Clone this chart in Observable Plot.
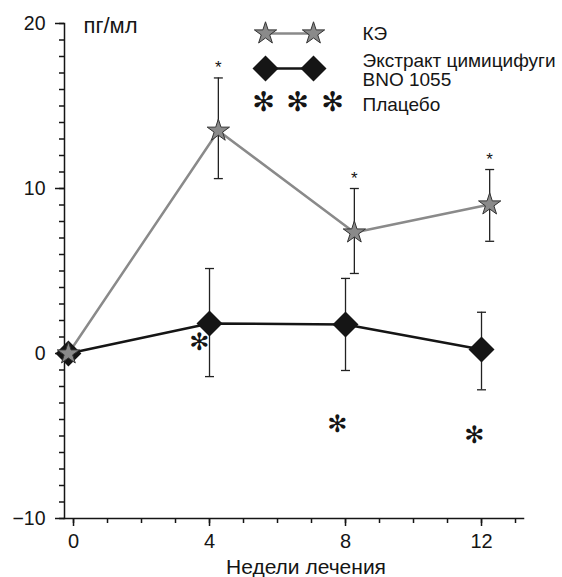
<!DOCTYPE html>
<html><head><meta charset="utf-8">
<script src="https://cdn.jsdelivr.net/npm/d3@7"></script>
<script src="https://cdn.jsdelivr.net/npm/@observablehq/plot@0.6"></script>
<style>body{margin:0;background:#fff}#chart{width:562px;height:577px}</style>
</head><body><div id="chart"></div>
<script>
// tick labels
const weekTicks = [0, 4, 8, 12];
const weekMinor = [0,1,2,3,4,5,6,7,8,9,10,11,12,13];
const yTicks = [-10, 0, 10, 20];
const yMinor = d3.range(-10, 21);

// КЭ (gray stars) — plotted x positions
const keX    = [-0.15, 4.26, 8.26, 12.24];
const keMean = [0, 13.5, 7.33, 9.03];
const keLow  = [null, 10.6, 4.85, 6.8];
const keHigh = [null, 16.7, 10.0, 11.15];

// Экстракт цимицифуги BNO 1055 (black diamonds)
const cimX    = [-0.15, 4, 8, 12];
const cimMean = [0, 1.82, 1.76, 0.24];
const cimLow  = [null, -1.4, -1.03, -2.2];
const cimHigh = [null, 5.15, 4.55, 2.5];

// Плацебо (asterisks)
const plX    = [3.7, 7.76, 11.79];
const plMean = [0.67, -4.3, -4.97];

const legendLabels = ["КЭ", "Экстракт цимицифуги", "BNO 1055", "Плацебо"];

const ke = keX.map((x, i) => ({x, y: keMean[i], lo: keLow[i], hi: keHigh[i]}));
const cim = cimX.map((x, i) => ({x, y: cimMean[i], lo: cimLow[i], hi: cimHigh[i]}));
const pl = plX.map((x, i) => ({x, y: plMean[i]}));
const keErr = ke.filter(d => d.lo != null);
const cimErr = cim.filter(d => d.lo != null);

const hline = hw => ({draw(ctx) { ctx.moveTo(-hw, 0); ctx.lineTo(hw, 0); }});
const cap = hline(4.5);
const gray = "#8a8a8a", black = "#151515";
const one = [0];
const font = "'Liberation Sans', Arial, sans-serif";

const legText = (label, dy) => Plot.text([label], {frameAnchor: "top-left", text: d => d, textAnchor: "start", lineAnchor: "middle", dx: 298, dy, fontSize: 19, fill: black});
const legAst = dx => Plot.text(one, {frameAnchor: "top-left", text: () => "✻", textAnchor: "middle", lineAnchor: "middle", dx, dy: 79, fontSize: 27, fill: black, fontFamily: "DejaVu Sans"});

const plot = Plot.plot({
  width: 562, height: 577,
  marginLeft: 64, marginRight: 39, marginTop: 23, marginBottom: 59,
  style: {fontFamily: font, fontSize: "19px", color: "#1a1a1a", background: "#fff", overflow: "visible"},
  x: {domain: [-0.265, 13.235]},
  y: {domain: [-10, 20]},
  marks: [
    Plot.frame({anchor: "left", stroke: black, strokeWidth: 1.5}),
    Plot.frame({anchor: "bottom", stroke: black, strokeWidth: 1.5}),
    Plot.axisY({ticks: yTicks, tickSize: 9, tickPadding: 10, fontSize: 19.5, label: null, strokeWidth: 1.5, color: black}),
    Plot.axisY({ticks: yMinor, tickSize: 5, fill: "none", label: null, strokeWidth: 1.5, stroke: black}),
    Plot.axisX({ticks: weekTicks, tickSize: 8, tickPadding: 7, fontSize: 20, label: null, strokeWidth: 1.5, color: black}),
    Plot.axisX({ticks: weekMinor, tickSize: 5, fill: "none", label: null, strokeWidth: 1.5, stroke: black}),
    Plot.text(one, {frameAnchor: "top-left", text: () => "пг/мл", textAnchor: "start", lineAnchor: "middle", dx: 19, dy: 2, fontSize: 22, fill: black}),
    Plot.text(one, {frameAnchor: "bottom", text: () => "Недели лечения", lineAnchor: "middle", dx: 12, dy: 49, fontSize: 21, fill: black}),

    // lines
    Plot.line(ke, {x: "x", y: "y", stroke: gray, strokeWidth: 2.5}),
    Plot.line(cim, {x: "x", y: "y", stroke: black, strokeWidth: 2.5}),

    // error bars
    Plot.ruleX(keErr, {x: "x", y1: "lo", y2: "hi", stroke: "#222", strokeWidth: 1.3}),
    Plot.dot(keErr, {x: "x", y: "lo", symbol: cap, stroke: "#222", strokeWidth: 1.3}),
    Plot.dot(keErr, {x: "x", y: "hi", symbol: cap, stroke: "#222", strokeWidth: 1.3}),
    Plot.ruleX(cimErr, {x: "x", y1: "lo", y2: "hi", stroke: "#222", strokeWidth: 1.3}),
    Plot.dot(cimErr, {x: "x", y: "lo", symbol: cap, stroke: "#222", strokeWidth: 1.3}),
    Plot.dot(cimErr, {x: "x", y: "hi", symbol: cap, stroke: "#222", strokeWidth: 1.3}),
    Plot.text(keErr, {x: "x", y: "hi", text: () => "*", dy: -10, fontSize: 17, fill: black}),

    // symbols
    Plot.dot(cim, {x: "x", y: "y", symbol: "diamond2", r: 11.7, fill: black, stroke: "none"}),
    Plot.dot(ke, {x: "x", y: "y", symbol: "star", r: 7, fill: gray, stroke: "#333", strokeWidth: 1}),
    Plot.text(pl, {x: "x", y: "y", text: () => "✻", fontSize: 24, fill: black, fontFamily: "DejaVu Sans"}),

    // legend
    Plot.dot(one, {frameAnchor: "top-left", dx: 225, dy: 10, symbol: hline(24), stroke: gray, strokeWidth: 2.5}),
    Plot.dot(one, {frameAnchor: "top-left", dx: 201, dy: 10, symbol: "star", r: 7, fill: gray, stroke: "#333", strokeWidth: 1}),
    Plot.dot(one, {frameAnchor: "top-left", dx: 249, dy: 10, symbol: "star", r: 7, fill: gray, stroke: "#333", strokeWidth: 1}),
    Plot.dot(one, {frameAnchor: "top-left", dx: 225, dy: 45, symbol: hline(24), stroke: black, strokeWidth: 2.5}),
    Plot.dot(one, {frameAnchor: "top-left", dx: 201, dy: 45, symbol: "diamond2", r: 11.7, fill: black, stroke: "none"}),
    Plot.dot(one, {frameAnchor: "top-left", dx: 249, dy: 45, symbol: "diamond2", r: 11.7, fill: black, stroke: "none"}),
    legAst(199), legAst(233), legAst(268),
    legText(legendLabels[0], 10),
    legText(legendLabels[1], 37),
    legText(legendLabels[2], 56),
    legText(legendLabels[3], 81)
  ]
});
document.getElementById("chart").append(plot);
</script>
</body></html>
